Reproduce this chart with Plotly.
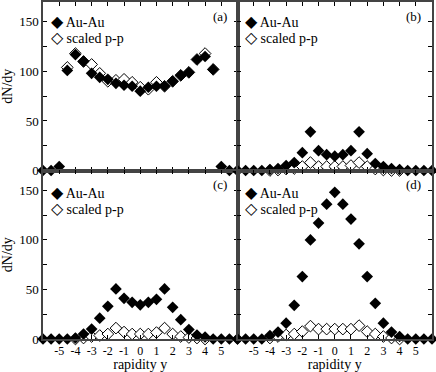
import plotly.graph_objects as go
from plotly.subplots import make_subplots

# rapidity bins
rapidity = [-6, -5.5, -5, -4.5, -4, -3.5, -3, -2.5, -2, -1.5, -1, -0.5, 0,
            0.5, 1, 1.5, 2, 2.5, 3, 3.5, 4, 4.5, 5, 5.5, 6]

N = None
# panel (a)
auau_a = [0, 0, 4, 101, 117, 110, 98, 94, 92, 88, 86, 85, 80,
          84, 85, 85, 90, 96, 99, 112, 115, 102, 4, 0, 0]
pp_a = [N, N, N, 104, 118, 110, 107, 98, 90, 91, 92, 89, 84,
        82, 89, 85, 90, 96, 99, 112, 118, 102, N, N, N]
# panel (b)
auau_b = [0, 0, 0, 0, 1, 2, 5, 8, 18, 39, 20, 16, 14.5,
          16, 20, 39, 17, 7, 4, 2, 1, 0, 0, 0, 0]
pp_b = [N, N, N, N, 0, 0.5, 1.5, 2, 4, 8, 4, 4, 4,
        4, 5, 8, 4, 1.5, 0.5, 0, 0, N, N, N, N]
# panel (c)
auau_c = [0, 0, 0, 0, 1, 5, 10, 21, 33, 50.5, 41, 37, 34.5,
          37, 40, 50.5, 32, 19.5, 9.5, 4, 2, 0, 0, 0, 0]
pp_c = [N, N, N, N, 0, 1, 2.5, 3.5, 5, 11, 7, 5, 5,
        5, 6.5, 11, 5, 2.5, 1.5, 1, 0, N, N, N, N]
# panel (d)
auau_d = [0, 0, 0, 0, 3.5, 7, 16, 34, 63, 100, 117, 136, 148,
          136, 121, 96, 63, 36, 16, 7, 2.5, 0, 0, 0, 0]
pp_d = [N, N, N, N, 1, 2.5, 4, 5, 7.5, 13, 10, 10, 10,
        10, 10, 13.5, 7.5, 5, 2.5, 1, 0, N, N, N, N]

panel_labels = ["(a)", "(b)", "(c)", "(d)"]
series_names = ["Au-Au", "scaled p-p"]
x_ticks = [-5, -4, -3, -2, -1, 0, 1, 2, 3, 4, 5]
y_ticks = [0, 50, 100, 150]

FONT = "Liberation Serif"

fig = make_subplots(rows=2, cols=2, horizontal_spacing=0, vertical_spacing=0)

panels = [(1, 1, auau_a, pp_a), (1, 2, auau_b, pp_b),
          (2, 1, auau_c, pp_c), (2, 2, auau_d, pp_d)]

for i, (r, c, au, pp) in enumerate(panels):
    fig.add_trace(go.Scatter(
        x=rapidity, y=pp, mode="markers", name=series_names[1],
        marker=dict(symbol="diamond", size=9, color="white",
                    line=dict(color="black", width=1)),
        cliponaxis=False, showlegend=False), row=r, col=c)
    fig.add_trace(go.Scatter(
        x=rapidity, y=au, mode="markers", name=series_names[0],
        marker=dict(symbol="diamond", size=9, color="black",
                    line=dict(color="black", width=0)),
        cliponaxis=False, showlegend=False), row=r, col=c)

    # in-panel key, written as text (plotly legends can't stack this tight)
    y0 = 0.885 if r == 1 else 0.87
    for k, (glyph, name) in enumerate(zip(["\u25c6", "\u25c7"], series_names)):
        fig.add_annotation(text=f"<span style='font-size:16px'>{glyph}</span> {name}",
                           xref="x domain", yref="y domain",
                           x=0.03, y=y0 - 0.095 * k, xanchor="left", yanchor="middle",
                           showarrow=False,
                           font=dict(family=FONT, size=14, color="black"),
                           row=r, col=c)
    fig.add_annotation(text=panel_labels[i], xref="x domain", yref="y domain",
                       x=0.955, y=0.915, xanchor="right", yanchor="middle",
                       showarrow=False, font=dict(family=FONT, size=13, color="black"),
                       row=r, col=c)

axis_common = dict(showline=True, linecolor="#444", linewidth=1.5, mirror="ticks",
                   ticks="inside", ticklen=4, tickcolor="black", showgrid=False,
                   zeroline=False, automargin=False,
                   tickfont=dict(family=FONT, size=13, color="black"))

fig.update_xaxes(range=[-6, 6], tickvals=x_ticks, ticktext=[str(v) for v in x_ticks],
                 ticklabelstandoff=0, **axis_common)
fig.update_xaxes(tickfont_size=12)
fig.update_yaxes(range=[0, 170], tickvals=y_ticks,
                 minor=dict(ticks="inside", dtick=25, ticklen=4, tickcolor="black"),
                 **axis_common)
fig.update_xaxes(showticklabels=False, row=1)
fig.update_yaxes(showticklabels=False, col=2)
fig.update_xaxes(title=dict(text="rapidity y", font=dict(family=FONT, size=14, color="black"),
                            standoff=2), row=2)
fig.update_yaxes(title=dict(text="dN/dy", font=dict(family=FONT, size=14, color="black"),
                            standoff=8), col=1)

fig.update_layout(width=436, height=372, margin=dict(l=43, r=4, t=2, b=33),
                  plot_bgcolor="white", paper_bgcolor="white", showlegend=False)

# page body margin would push the figure off its 436x372 frame
fig.write_html("out.html", config={"displayModeBar": False},
               post_script="document.body.style.margin='0';")
